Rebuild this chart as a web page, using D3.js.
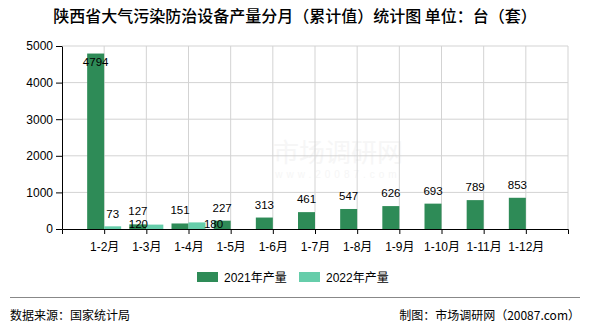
<!DOCTYPE html>
<html>
<head>
<meta charset="utf-8">
<script src="https://cdn.jsdelivr.net/npm/d3@7"></script>
<style>
  body { margin: 0; background: #fff; }
  svg { display: block; font-family: "Liberation Sans", "Noto Sans CJK SC", sans-serif; }
</style>
</head>
<body>
<svg id="chart" width="590" height="330"></svg>
<script>
// chart data
var months = ["1-2月", "1-3月", "1-4月", "1-5月", "1-6月", "1-7月", "1-8月", "1-9月", "1-10月", "1-11月", "1-12月"];
var output2021 = [4794, 127, 151, 227, 313, 461, 547, 626, 693, 789, 853];
var output2022 = [73, 120, 180];
var yTicks = [0, 1000, 2000, 3000, 4000, 5000];
var seriesNames = ["2021年产量", "2022年产量"];
var title = "陕西省大气污染防治设备产量分月（累计值）统计图 单位：台（套）";
var source = "数据来源：国家统计局";
var credit = "制图：市场调研网（20087.com）";

var colors = ["#2e8b57", "#66cdaa"],
    margin = {top: 46, right: 22, bottom: 101, left: 62},
    W = 590, H = 330,
    width = W - margin.left - margin.right,
    height = H - margin.top - margin.bottom,
    barW = 17;

var svg = d3.select("#chart");

svg.append("text")
    .attr("x", W / 2)
    .attr("y", 22)
    .attr("text-anchor", "middle")
    .attr("font-family", "'Noto Sans CJK SC', sans-serif")
    .attr("font-size", 16)
    .attr("font-weight", 500)
    .attr("fill", "#000")
    .text(title);

// faint watermark
var wm = svg.append("g").attr("fill", "#f6f6f6").attr("text-anchor", "middle");
wm.append("text").attr("x", 338).attr("y", 162)
    .attr("font-family", "'Noto Sans CJK SC', sans-serif").attr("font-size", 26).text("市场调研网");
wm.append("text").attr("x", 338).attr("y", 178)
    .attr("font-size", 10).attr("letter-spacing", 4).text("www.20087.com");

var g = svg.append("g").attr("transform", "translate(" + margin.left + "," + margin.top + ")");

var x = d3.scalePoint().domain(months).range([0, width]).padding(1),
    y = d3.scaleLinear().domain([0, 5000]).range([height, 0]);

// grid
g.append("g").selectAll("line").data(yTicks.slice(1)).join("line")
    .attr("x1", 0).attr("x2", width)
    .attr("y1", function(d) { return y(d); }).attr("y2", function(d) { return y(d); })
    .attr("stroke", "#d3d3d3");
g.append("g").selectAll("line").data(months).join("line")
    .attr("x1", function(d) { return x(d); }).attr("x2", function(d) { return x(d); })
    .attr("y1", 0).attr("y2", height)
    .attr("stroke", "#d3d3d3");
g.append("line")
    .attr("x1", width).attr("x2", width).attr("y1", 0).attr("y2", height)
    .attr("stroke", "#d3d3d3");

// bars
var series = [output2021, output2022];
series.forEach(function(vals, s) {
    g.append("g").selectAll("rect").data(vals).join("rect")
        .attr("x", function(d, i) { return x(months[i]) + (s === 0 ? -barW : 0); })
        .attr("y", function(d) { return y(d); })
        .attr("width", barW)
        .attr("height", function(d) { return height - y(d); })
        .attr("fill", colors[s]);
});

// axes
var xAxis = g.append("g")
    .attr("transform", "translate(0," + height + ")")
    .call(d3.axisBottom(x).tickSize(5).tickSizeOuter(5).tickPadding(4));
var yAxis = g.append("g")
    .call(d3.axisLeft(y).tickValues(yTicks).tickFormat(d3.format("d"))
        .tickSize(6).tickSizeOuter(0).tickPadding(3));
[xAxis, yAxis].forEach(function(a) {
    a.selectAll("path, line").attr("stroke", "#000");
    a.selectAll("text").attr("fill", "#000").attr("font-size", 12)
        .attr("font-family", "'Liberation Sans', 'Noto Sans CJK SC', sans-serif");
});
xAxis.selectAll("text").attr("dy", "1.1em");

// value labels
var labels = g.append("g").attr("font-size", 11.5).attr("fill", "#000").attr("text-anchor", "middle");
output2021.forEach(function(d, i) {
    var cx = x(months[i]) - barW / 2,
        inside = y(d) < 30;
    labels.append("text")
        .attr("x", cx)
        .attr("y", inside ? y(d) + 12 : y(d) - 9)
        .text(d);
});
output2022.forEach(function(d, i) {
    var cx = x(months[i]) + barW / 2,
        ty = y(d) - 8;
    // labels that would collide with the 2021 label drop to the base line
    if (i > 0 && Math.abs(y(d) - y(output2021[i])) < 14) {
        cx = i % 2 ? cx - 16.5 : cx + 16.5;
        ty = height - 1.5;
    }
    labels.append("text").attr("x", cx).attr("y", ty).text(d);
});

// legend
var legend = svg.append("g").attr("transform", "translate(197,272)");
seriesNames.forEach(function(name, i) {
    var lg = legend.append("g").attr("transform", "translate(" + (i * 102) + ",0)");
    lg.append("rect").attr("width", 21).attr("height", 10).attr("fill", colors[i]);
    lg.append("text").attr("x", 27).attr("y", 9.5)
        .attr("font-size", 12).attr("fill", "#000")
        .attr("font-family", "'Liberation Sans', 'Noto Sans CJK SC', sans-serif")
        .text(name);
});

// footer
svg.append("line").attr("x1", 10).attr("x2", 580).attr("y1", 297.5).attr("y2", 297.5)
    .attr("stroke", "#888");
svg.append("text").attr("x", 10).attr("y", 320).attr("font-size", 12)
    .attr("font-family", "'Noto Sans CJK SC', sans-serif").text(source);
svg.append("text").attr("x", 580).attr("y", 320).attr("font-size", 12).attr("text-anchor", "end")
    .attr("font-family", "'Noto Sans CJK SC', sans-serif").text(credit);
</script>
</body>
</html>
